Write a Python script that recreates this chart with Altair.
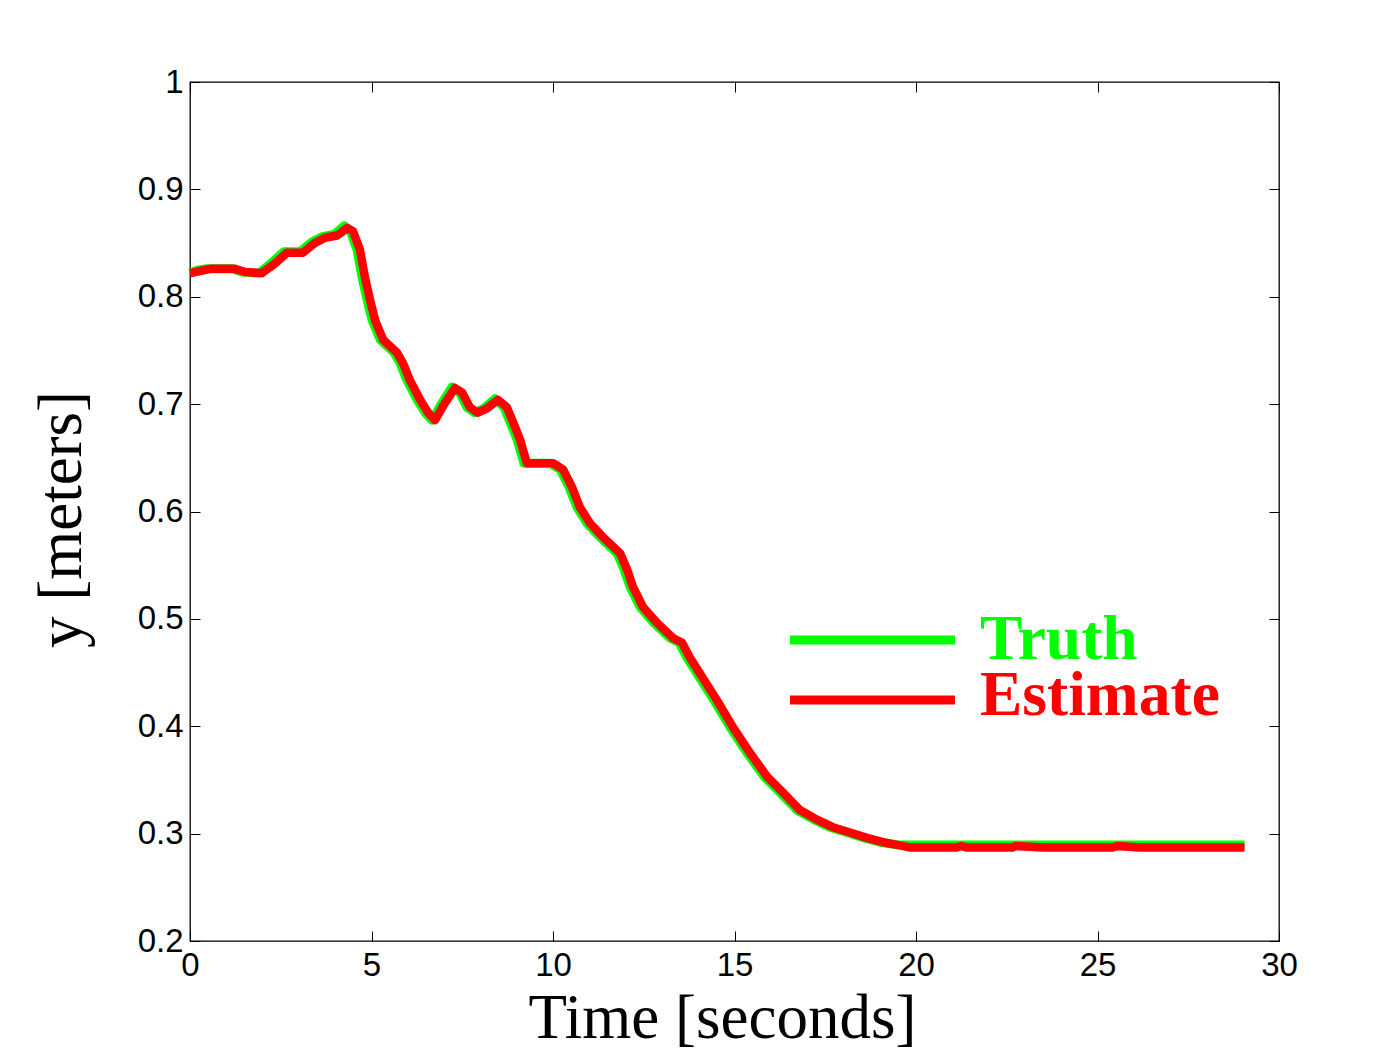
import altair as alt
import pandas as pd

# Estimate (red) series
est_t = [0, 0.28, 0.55, 1.24, 1.52, 1.98, 2.34, 2.67, 3.11, 3.44, 3.72, 4.05, 4.33, 4.49,
         4.68, 4.82, 4.96, 5.10, 5.32, 5.70, 5.87, 6.06, 6.34, 6.56, 6.75, 7.02, 7.30, 7.49,
         7.71, 7.93, 8.18, 8.48, 8.73, 8.95, 9.09, 9.28, 9.72, 10.0, 10.28, 10.52, 10.74,
         11.02, 11.38, 11.85, 12.04, 12.20, 12.48, 12.87, 13.31, 13.55, 13.77, 14.52, 14.96,
         15.43, 15.90, 16.34, 16.80, 17.27, 17.71, 18.18, 18.65, 19.09, 19.56, 19.85, 21.1,
         21.25, 21.4, 22.65, 22.75, 23.5, 25.4, 25.55, 26.15, 29.05]
est_v = [0.822, 0.824, 0.826, 0.826, 0.823, 0.822, 0.831, 0.841, 0.841, 0.850, 0.855, 0.857,
         0.864, 0.861, 0.844, 0.818, 0.797, 0.778, 0.760, 0.748, 0.738, 0.722, 0.704, 0.692,
         0.685, 0.701, 0.715, 0.711, 0.697, 0.692, 0.696, 0.704, 0.697, 0.679, 0.667, 0.645,
         0.645, 0.645, 0.639, 0.623, 0.604, 0.589, 0.576, 0.561, 0.546, 0.530, 0.511, 0.496,
         0.482, 0.478, 0.464, 0.424, 0.399, 0.375, 0.353, 0.338, 0.322, 0.313, 0.306, 0.301,
         0.296, 0.292, 0.289, 0.2870, 0.2870, 0.2885, 0.2870, 0.2870, 0.2885, 0.2870, 0.2870,
         0.2885, 0.2870, 0.2870]

# Truth (green) series
tru_t = [0, 0.22, 0.48, 1.16, 1.44, 1.90, 2.26, 2.59, 3.03, 3.36, 3.64, 3.97, 4.25, 4.41,
         4.60, 4.74, 4.88, 5.02, 5.24, 5.62, 5.79, 5.98, 6.26, 6.48, 6.67, 6.94, 7.22, 7.41,
         7.63, 7.85, 8.10, 8.40, 8.65, 8.87, 9.01, 9.20, 9.64, 9.92, 10.20, 10.44, 10.66,
         10.94, 11.30, 11.77, 11.96, 12.12, 12.40, 12.79, 13.23, 13.47, 13.69, 14.44, 14.88,
         15.35, 15.82, 16.26, 16.72, 17.19, 17.63, 18.10, 18.57, 19.01, 19.48, 29.05]
tru_v = [0.822, 0.825, 0.826, 0.826, 0.823, 0.822, 0.832, 0.842, 0.842, 0.851, 0.856, 0.858,
         0.866, 0.862, 0.844, 0.818, 0.797, 0.778, 0.760, 0.748, 0.738, 0.722, 0.704, 0.692,
         0.685, 0.701, 0.716, 0.712, 0.697, 0.692, 0.696, 0.705, 0.697, 0.679, 0.667, 0.645,
         0.645, 0.645, 0.639, 0.623, 0.604, 0.589, 0.576, 0.561, 0.546, 0.530, 0.511, 0.496,
         0.482, 0.478, 0.464, 0.424, 0.399, 0.375, 0.353, 0.338, 0.322, 0.313, 0.306, 0.301,
         0.296, 0.292, 0.2895, 0.2895]

x_ticks = [0, 5, 10, 15, 20, 25, 30]
y_ticks = [0.2, 0.3, 0.4, 0.5, 0.6, 0.7, 0.8, 0.9, 1.0]
legend_names = ["Truth", "Estimate"]
legend_colors = ["#00ff00", "#ff0000"]

est = pd.DataFrame({"t": est_t, "v": est_v})
tru = pd.DataFrame({"t": tru_t, "v": tru_v})

xs = alt.Scale(domain=[0, 30], nice=False, zero=False)
ys = alt.Scale(domain=[0.2, 1.0], nice=False, zero=False)

LABEL_FONT = "Liberation Sans"
SERIF = "Liberation Serif"

x_bottom = alt.Axis(orient="bottom", offset=-10, tickSize=10, tickWidth=1, tickColor="black",
                    domain=False, grid=False, values=x_ticks, labelFont=LABEL_FONT,
                    labelFontSize=33, labelColor="black", labelPadding=8, labelFlush=False,
                    labelOverlap=False, title="Time [seconds]", titleFont=SERIF,
                    titleFontSize=63, titleFontWeight="normal", titleColor="black",
                    titleBaseline="alphabetic", titleAlign="center", titleX=532, titleY=106)
y_left = alt.Axis(orient="left", offset=-10, tickSize=10, tickWidth=1, tickColor="black",
                  domain=False, grid=False, values=y_ticks, format="~g", labelFont=LABEL_FONT,
                  labelFontSize=33, labelColor="black", labelPadding=7, labelFlush=False,
                  labelOverlap=False, title="y [meters]", titleFont=SERIF, titleFontSize=63,
                  titleFontWeight="normal", titleColor="black", titleBaseline="alphabetic",
                  titleAlign="center", titleAngle=270, titleX=-120, titleY=437)
x_top = alt.Axis(orient="top", offset=-10, tickSize=10, tickWidth=1, tickColor="black",
                 domain=False, grid=False, values=x_ticks, labels=False, title=None)
y_right = alt.Axis(orient="right", offset=-10, tickSize=10, tickWidth=1, tickColor="black",
                   domain=False, grid=False, values=y_ticks, labels=False, title=None)

truth_line = alt.Chart(tru).mark_line(color=legend_colors[0], strokeWidth=9,
                                      strokeJoin="round").encode(
    x=alt.X("t:Q", scale=xs, axis=x_bottom),
    y=alt.Y("v:Q", scale=ys, axis=y_left),
)
est_line = alt.Chart(est).mark_line(color=legend_colors[1], strokeWidth=8.5,
                                    strokeJoin="round").encode(
    x=alt.X("t:Q", scale=xs, axis=x_top),
    y=alt.Y("v:Q", scale=ys, axis=y_right),
)

leg_rule_truth = alt.Chart(pd.DataFrame({"n": [legend_names[0]]})).mark_rule(
    color=legend_colors[0], strokeWidth=9).encode(
    x=alt.value(600), x2=alt.value(765), y=alt.value(558))
leg_rule_est = alt.Chart(pd.DataFrame({"n": [legend_names[1]]})).mark_rule(
    color=legend_colors[1], strokeWidth=9).encode(
    x=alt.value(600), x2=alt.value(765), y=alt.value(618))
leg_text_truth = alt.Chart(pd.DataFrame({"n": [legend_names[0]]})).mark_text(
    color=legend_colors[0], font=SERIF, fontWeight="bold", fontSize=63.5, align="left",
    baseline="alphabetic").encode(x=alt.value(790), y=alt.value(577), text="n:N")
leg_text_est = alt.Chart(pd.DataFrame({"n": [legend_names[1]]})).mark_text(
    color=legend_colors[1], font=SERIF, fontWeight="bold", fontSize=63.5, align="left",
    baseline="alphabetic").encode(x=alt.value(790), y=alt.value(633), text="n:N")

chart = alt.layer(
    truth_line, est_line, leg_rule_truth, leg_rule_est, leg_text_truth, leg_text_est
).resolve_axis(x="independent", y="independent").resolve_scale(x="shared", y="shared").properties(
    width=1089, height=859,
    autosize=alt.AutoSizeParams(type="none"),
    padding={"left": 182, "top": 74, "right": 110, "bottom": 114},
    background="white",
).configure_view(stroke="black", strokeWidth=1.3)

chart.save("out.html", embed_options={"renderer": "svg", "actions": False})
